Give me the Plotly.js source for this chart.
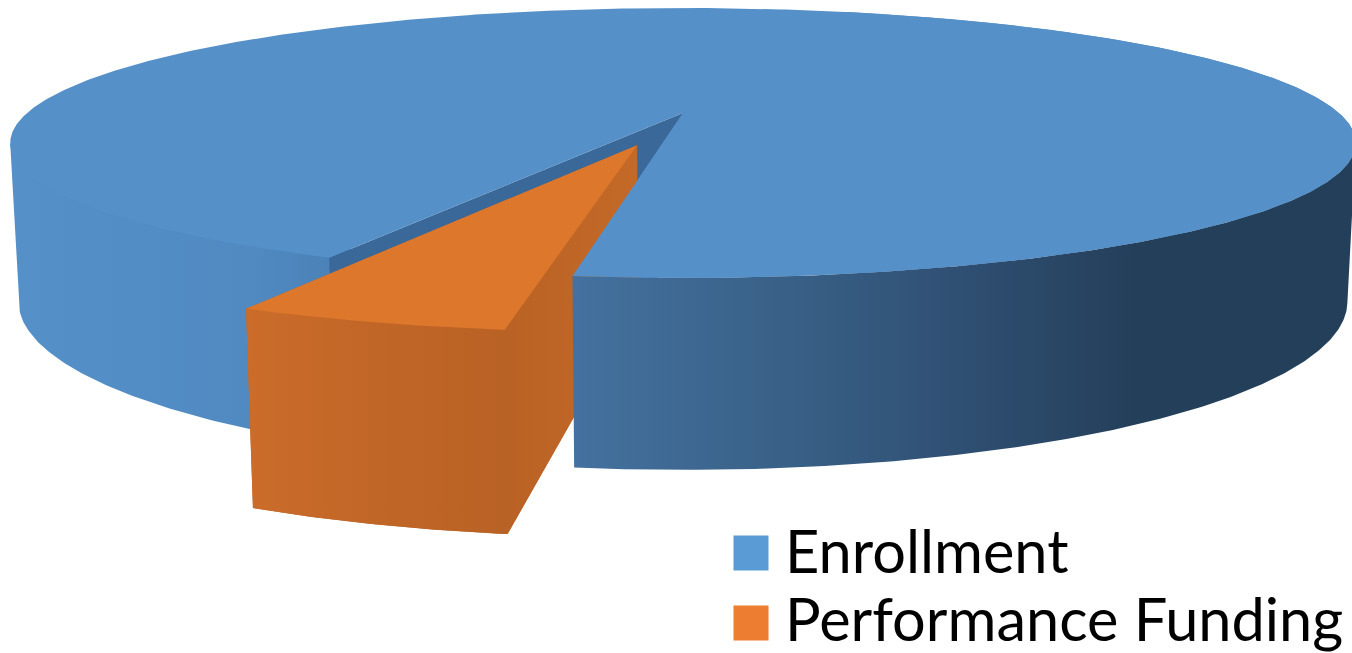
<!DOCTYPE html>
<html>
<head>
<meta charset="utf-8">
<script src="https://cdn.plot.ly/plotly-3.0.1.min.js"></script>
<style>html,body{margin:0;padding:0;background:#fff;overflow:hidden}#chart{width:1352px;height:653px}</style>
</head>
<body>
<div id="chart"></div>
<script>
// Funding shares
const categories = ['Enrollment', 'Performance Funding'];
const shares = [95, 5];

// Perspective pie: pixel-space camera parameters
const CX = 683, CY = 113;      // disc centre on screen
const RX = 656, RY = 128.3;    // radius scale on screen
const TILT = 0.222;            // foreshortening towards the viewer
const DEPTH = 153.6;           // disc thickness
const SHRINK = 0.012;          // extra perspective of the lower face
const START = 97.55;           // angle where the small slice begins (deg, clockwise on screen)
const EXPLODE = 0.2465;        // pull-out distance of the small slice
const EXPLODE_DIR = 105.6;     // pull-out direction (deg)
const RIM_L = 167, RIM_R = 13; // angles of the disc's outer silhouette

const total = shares.reduce((a, b) => a + b, 0);
const sweep = 360 * shares[1] / total;
const END = START + sweep;

const rad = d => d * Math.PI / 180;

// Project a disc-plane point; depth 0 is the upper face, 1 the lower face
function project(px, py, depth) {
  const w = 1 - TILT * py + SHRINK * depth;
  return [CX + RX * px / w, CY + (RY * py + DEPTH * depth) / w];
}
function rimPoint(a, depth, off, radius) {
  const r = radius === undefined ? 1 : radius;
  const ox = off ? off * Math.cos(rad(EXPLODE_DIR)) : 0;
  const oy = off ? off * Math.sin(rad(EXPLODE_DIR)) : 0;
  return project(r * Math.cos(rad(a)) + ox, r * Math.sin(rad(a)) + oy, depth);
}
function hubPoint(depth, off) {
  return rimPoint(0, depth, off, 0);
}
function arc(a0, a1, depth, off, radius) {
  const n = Math.max(2, Math.ceil(Math.abs(a1 - a0) * 2));
  const out = [];
  for (let i = 0; i <= n; i++) out.push(rimPoint(a0 + (a1 - a0) * i / n, depth, off, radius));
  return out;
}
function poly(points, style) {
  return Object.assign({
    x: points.map(p => p[0]),
    y: points.map(p => p[1]),
    type: 'scatter', mode: 'lines', fill: 'toself',
    line: {width: 0}, hoverinfo: 'skip', showlegend: false
  }, style);
}
const solid = c => ({fillcolor: c});
const ramp = stops => ({fillgradient: {type: 'horizontal', colorscale: stops}});

const hub = hubPoint(0, 0);
const tip = hubPoint(0, EXPLODE);
const tipLow = hubPoint(1, EXPLODE);

const traces = [
  // Large slice: left wall (tucked under the face), cut wall, full upper face
  poly([...arc(END, RIM_L, 0, 0, 0.95), rimPoint(RIM_L, 0), ...arc(RIM_L, END, 1)],
       ramp([[0, '#5590c8'], [0.35, '#538dc5'], [0.7, '#508ac1'], [1, '#4a80b6']])),
  poly([hub, rimPoint(END, 0), rimPoint(END, 1), hubPoint(1, 0), hub], solid('#3a6899')),
  poly([hub, ...arc(END, 360 + START, 0), hub], solid('#5590c8')),

  // Small slice: backing silhouette, cut wall, outer wall, upper face
  poly([tip, rimPoint(END, 0, EXPLODE), rimPoint(END, 1, EXPLODE), ...arc(END, START, 1, EXPLODE), tipLow, tip],
       solid('#bd6426')),
  poly([tip, rimPoint(START, 0, EXPLODE), rimPoint(START, 1, EXPLODE), tipLow, tip],
       ramp([[0, '#b96225'], [1, '#c46a28']])),
  poly([...arc(START, END, 0, EXPLODE), ...arc(END, START, 1, EXPLODE)],
       ramp([[0, '#cb6c2a'], [0.5, '#c06627'], [1, '#b96225']])),
  poly([tip, ...arc(START, END, 0, EXPLODE), tip], solid('#dd772c')),

  // Large slice again, right half: its wall and face sit in front of the small slice's cut wall
  poly([hub, ...arc(START, RIM_R, 0), ...arc(RIM_R, START, 1), rimPoint(START, 0)],
       ramp([[0, '#44719f'], [0.25, '#3a6289'], [0.5, '#2f4f72'], [0.72, '#243f5a'], [1, '#243f5a']])),
  poly([hub, ...arc(START, START - 170, 0), hub], solid('#5590c8')),

  // Legend
  {x: [751, 751], y: [553, 623], type: 'scatter', mode: 'markers', hoverinfo: 'skip', showlegend: false,
   marker: {symbol: 'square', size: 35, color: ['#5b9bd5', '#ed7d31'], line: {width: 0}}},
  {x: [785, 785], y: [558, 626], type: 'scatter', mode: 'text', hoverinfo: 'skip', showlegend: false,
   text: categories, textposition: 'middle right',
   textfont: {family: 'Lato, "Open Sans", sans-serif', size: 59.5, color: '#000'}}
];

const layout = {
  width: 1352, height: 653,
  margin: {l: 0, r: 0, t: 0, b: 0},
  paper_bgcolor: '#fff', plot_bgcolor: '#fff',
  xaxis: {range: [0, 1352], visible: false, fixedrange: true},
  yaxis: {range: [653, 0], visible: false, fixedrange: true},
  showlegend: false
};
Plotly.newPlot('chart', traces, layout, {displayModeBar: false, staticPlot: true});
</script>
</body>
</html>
